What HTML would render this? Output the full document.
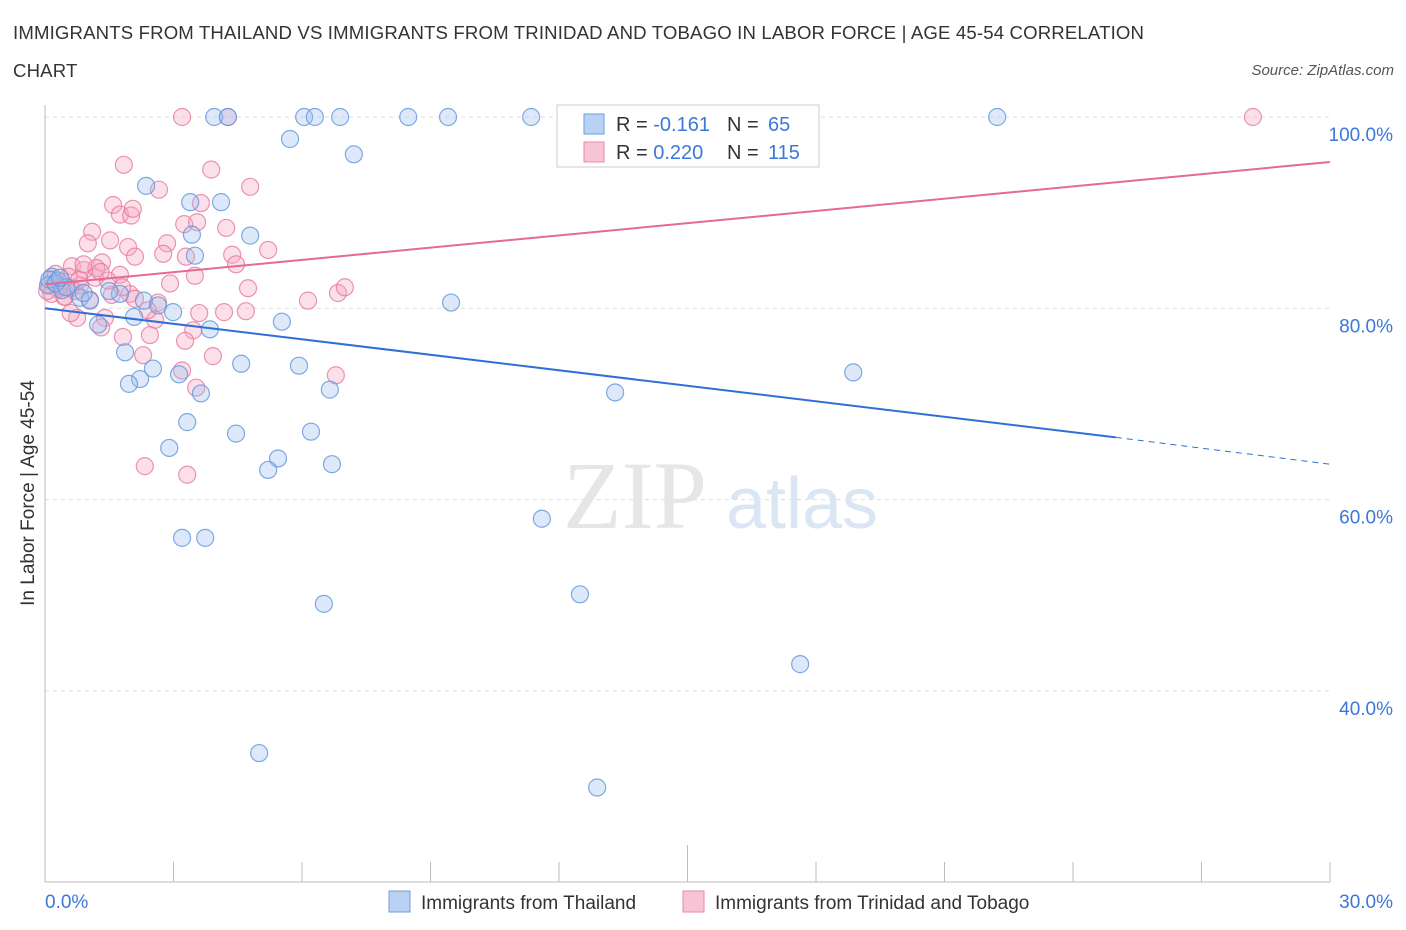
<!DOCTYPE html>
<html><head><meta charset="utf-8">
<style>
body{margin:0;background:#fff;font-family:"Liberation Sans",sans-serif;}
#wrap{position:relative;width:1406px;height:930px;overflow:hidden;}
.title{position:absolute;left:13px;top:14px;font-size:18.6px;color:#333;line-height:38px;letter-spacing:0.15px}
.src{position:absolute;right:12px;top:62px;font-size:15px;color:#555;font-style:italic}
</style></head><body>
<div id="wrap">
<div class="title">IMMIGRANTS FROM THAILAND VS IMMIGRANTS FROM TRINIDAD AND TOBAGO IN LABOR FORCE | AGE 45-54 CORRELATION<br>CHART</div>
<div class="src">Source: ZipAtlas.com</div>
<svg id="chart" width="1406" height="930" style="position:absolute;left:0;top:0"></svg>
</div>
<script>
const blueX=[3.95,4.27,6.05,6.30,6.89,8.48,9.41,11.35,22.23,5.72,7.21,2.36,3.39,4.11,4.79,3.43,3.50,0.16,0.30,0.07,0.40,0.82,1.05,1.75,2.31,2.64,2.99,2.08,1.24,3.85,5.53,9.48,1.87,4.58,5.93,3.13,2.52,2.22,1.96,6.65,3.64,13.31,18.87,3.32,4.46,6.21,2.90,5.44,5.21,6.70,11.60,3.20,3.74,6.51,12.49,17.63,5.00,12.89,0.1,0.25,0.5,0.35,1.5,0.9];
const blueY=[100,100,100,100,100,100,100,100,100,97.7,96.1,92.8,91.1,91.1,87.6,87.7,85.5,83.3,82.9,82.4,81.9,81.1,80.8,81.5,80.8,80.3,79.6,79.1,78.3,77.8,78.6,80.6,75.4,74.2,74.0,73.1,73.7,72.6,72.1,71.5,71.1,71.2,73.3,68.1,66.9,67.1,65.4,64.3,63.1,63.7,58.0,56.0,56.0,49.1,50.1,42.8,33.5,29.9,83.0,82.6,82.2,83.2,81.8,81.6];
const pinkX=[3.20,4.27,28.2,1.84,3.88,4.79,2.66,3.64,1.59,1.75,2.01,2.05,1.10,1.00,1.52,1.94,2.85,3.25,3.55,4.23,4.37,5.21,1.33,2.10,2.76,3.29,4.46,0.63,0.91,1.75,3.50,2.92,4.74,6.14,6.84,7.00,2.64,3.60,4.18,4.69,0.75,1.40,2.57,3.46,1.31,1.82,2.45,3.27,2.29,3.92,3.20,3.53,6.79,2.33,3.32,1.05,0.47,1.56,1.98,0.82,1.17,1.47,0.1,0.2,0.3,0.15,0.4,0.55,0.6,0.7,0.25,0.45,0.05,0.35,0.8,1.2,0.9,1.3,2.1,1.8,2.4,0.6];
const pinkY=[100,100,100,95.0,94.5,92.7,92.4,91.0,90.8,89.8,89.7,90.4,88.0,86.8,87.1,86.4,86.8,88.8,89.0,88.4,85.6,86.1,84.8,85.4,85.7,85.4,84.6,84.4,84.0,83.5,83.4,82.6,82.1,80.8,81.6,82.2,80.6,79.5,79.6,79.7,79.0,79.0,78.8,77.7,78.0,77.0,77.2,76.6,75.1,75.0,73.5,71.7,73.0,63.5,62.6,80.9,81.2,81.4,81.5,82.4,83.2,82.9,82.5,83.0,82.0,81.5,82.8,83.3,82.1,81.8,83.6,81.2,81.8,82.3,83.0,84.2,84.6,83.8,81.0,82.2,79.8,79.5];
const yTicks=[100,80,60,40];
const yTickLabels=["100.0%","80.0%","60.0%","40.0%"];
const blueLine=[80.0,66.5,63.7]; // at x=0, 25, 30
const pinkLine=[82.5,95.3];       // at x=0, 30
const NS="http://www.w3.org/2000/svg";
const svg=document.getElementById('chart');
const X0=45,X1=1330,Y100=117,PX20=191.3;
const sx=v=>X0+(X1-X0)*v/30;
const sy=v=>Y100+(100-v)*PX20/20;
function mk(tag,attrs){const e=document.createElementNS(NS,tag);for(const k in attrs)e.setAttribute(k,attrs[k]);svg.appendChild(e);return e;}
yTicks.forEach((t,i)=>{
 const g=mk('line',{x1:X0,x2:X1,y1:sy(t),y2:sy(t),stroke:'#dcdcdc','stroke-dasharray':'4,4'});
 
 
 const tx=mk('text',{x:1393,y:sy(t)+24,'text-anchor':'end','font-size':19,fill:'#3b78d8','font-family':'Liberation Sans,sans-serif'});
 tx.textContent=yTickLabels[i];
 
 
});
let a=mk('line',{x1:X0,x2:X0,y1:105,y2:882,stroke:'#bbb'});


a=mk('line',{x1:X0,x2:X1,y1:882,y2:882,stroke:'#bbb'});


for(let i=0;i<=10;i++){
 const t=mk('line',{x1:sx(i*3),x2:sx(i*3),y1:i==5?845:862,y2:882,stroke:'#bbb'});
 
 
}
let w=mk('text',{x:635,y:528,'text-anchor':'middle','font-size':96,fill:'#e6e6e6','font-family':'Liberation Serif,serif'});w.textContent='ZIP';


w=mk('text',{x:802,y:528,'text-anchor':'middle','font-size':72,fill:'#dbe6f5','font-family':'Liberation Sans,sans-serif'});w.textContent='atlas';


function pts(xs,ys,fill,stroke,name){
 xs.forEach((x,i)=>{
  const c=mk('circle',{cx:sx(x),cy:sy(ys[i]),r:8.5,fill:fill,'fill-opacity':0.35,stroke:stroke,'stroke-opacity':0.8,'stroke-width':1.2});
  
  
 });
}
pts(pinkX,pinkY,'#f4a6c0','#e7799d','point-trinidad');
pts(blueX,blueY,'#9dc0ef','#5f95dd','point-thailand');
let l=mk('line',{x1:sx(0),y1:sy(blueLine[0]),x2:sx(25),y2:sy(blueLine[1]),stroke:'#2f6fd6','stroke-width':2});


l=mk('line',{x1:sx(25),y1:sy(blueLine[1]),x2:sx(30),y2:sy(blueLine[2]),stroke:'#2f6fd6','stroke-width':1,'stroke-dasharray':'6,5'});


l=mk('line',{x1:sx(0),y1:sy(pinkLine[0]),x2:sx(30),y2:sy(pinkLine[1]),stroke:'#e56a93','stroke-width':2});


let t=mk('text',{x:45,y:908,'font-size':19,fill:'#3b78d8','font-family':'Liberation Sans,sans-serif'});t.textContent='0.0%';


t=mk('text',{x:1393,y:908,'text-anchor':'end','font-size':19,fill:'#3b78d8','font-family':'Liberation Sans,sans-serif'});t.textContent='30.0%';


t=mk('text',{x:0,y:0,'font-size':19,fill:'#333','text-anchor':'middle','transform':'translate(34,493) rotate(-90)','font-family':'Liberation Sans,sans-serif'});t.textContent='In Labor Force | Age 45-54';


let r=mk('rect',{x:557,y:105,width:262,height:62,fill:'#fff',stroke:'#ccc'});


[[{f:'#b9d2f4',s:'#6d9fe0'},'-0.161','65',123],[{f:'#f8c3d4',s:'#e88aa8'},'0.220','115',151]].forEach(([c,R,N,y])=>{
 const b=mk('rect',{x:584,y:y-9,width:20,height:20,fill:c.f,stroke:c.s});
 
 
 const tx=mk('text',{x:616,y:y+8,'font-size':20,fill:'#333','font-family':'Liberation Sans,sans-serif'});
 tx.innerHTML='R = <tspan fill="#3b78d8">'+R+'</tspan><tspan x="727">N = </tspan><tspan fill="#3b78d8" x="768">'+N+'</tspan>';
 
 
});
[['#b9d2f4','#6d9fe0',389,421,'Immigrants from Thailand'],['#f8c3d4','#e88aa8',683,715,'Immigrants from Trinidad and Tobago']].forEach(([f,s,x,tx,lab])=>{
 const b=mk('rect',{x:x,y:891,width:21,height:21,fill:f,stroke:s});
 
 
 const tt=mk('text',{x:tx,y:909,'font-size':19,fill:'#333','font-family':'Liberation Sans,sans-serif'});tt.textContent=lab;
 
 
});
</script>
</body></html>
